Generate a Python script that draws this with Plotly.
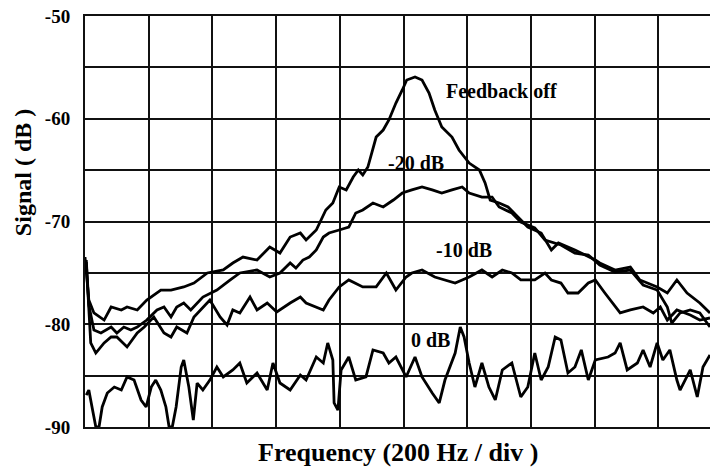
import plotly.graph_objects as go

# Frequency axis in divisions (200 Hz / div), signal in dB
fb_off_x = [0, 0.06, 0.14, 0.3, 0.41, 0.57, 0.66, 0.82, 0.97, 1.04, 1.19, 1.35, 1.55, 1.71, 1.92, 2.17, 2.32, 2.48, 2.7, 2.9,
            3.06, 3.22, 3.38, 3.47, 3.63, 3.78, 3.89, 3.99, 4.1, 4.21, 4.29, 4.36, 4.44, 4.57, 4.68, 4.77, 4.88, 4.98, 5.05, 5.18,
            5.29, 5.4, 5.49, 5.6, 5.76, 5.87, 6.03, 6.19, 6.28, 6.36, 6.5, 6.64, 6.8, 6.95, 7.16, 7.32, 7.43, 7.69, 8.01, 8.08,
            8.32, 8.56, 8.71, 8.98, 9.14, 9.29, 9.45, 9.65, 9.81]
fb_off_y = [-73.46, -77.64, -78.9, -79.59, -78.32, -78.61, -78.32, -78.61, -77.64, -77.35, -76.67, -76.67, -76.37, -75.99, -75.01, -74.72, -74.04, -73.46, -73.75, -72.48,
            -73.07, -71.51, -71.12, -71.8, -70.83, -68.88, -68.2, -66.64, -66.93, -65.67, -64.99, -65.47, -64.7, -61.78, -61.1, -60.12, -58.47, -57.2, -56.23, -55.94,
            -56.23, -57.49, -59.15, -60.8, -61.78, -63.04, -64.31, -64.99, -66.25, -67.91, -68.2, -68.59, -69.56, -70.54, -71.12, -72.77, -72.09, -72.77, -73.75, -74.04,
            -74.72, -74.43, -75.69, -76.37, -76.96, -75.69, -76.96, -77.93, -78.9]

m20_x = [0.02, 0.06, 0.14, 0.25, 0.41, 0.5, 0.61, 0.72, 0.82, 0.97, 1.13, 1.24, 1.35, 1.44, 1.55, 1.66, 1.85, 2.07, 2.28, 2.43,
         2.7, 2.9, 3.06, 3.22, 3.31, 3.42, 3.52, 3.63, 3.74, 3.83, 3.99, 4.14, 4.25, 4.36, 4.52, 4.68, 4.84, 4.98, 5.13, 5.29,
         5.45, 5.6, 5.76, 5.92, 6.03, 6.23, 6.39, 6.5, 6.7, 6.84, 7.06, 7.22, 7.47, 7.69, 7.9, 8.08, 8.32, 8.56, 8.76, 8.98,
         9.14, 9.21, 9.34, 9.5, 9.65, 9.81]
m20_y = [-73.75, -78.13, -80.56, -80.85, -80.27, -80.85, -80.27, -80.56, -80.27, -79.59, -78.61, -78.32, -79.29, -78.32, -77.93, -78.61, -77.35, -76.67, -75.69, -75.01,
         -74.72, -75.4, -75.01, -74.04, -74.53, -73.75, -73.46, -72.77, -71.51, -71.12, -70.83, -70.54, -69.17, -68.88, -68.2, -68.59, -67.91, -67.23, -66.93, -66.64,
         -66.93, -67.23, -66.93, -66.64, -67.23, -67.62, -67.62, -68.59, -69.17, -70.05, -70.63, -71.8, -72.29, -73.07, -73.26, -74.23, -74.91, -74.72, -76.18, -76.67,
         -78.32, -79.88, -78.9, -78.61, -78.9, -80.27]

m10_x = [0.02, 0.09, 0.17, 0.3, 0.41, 0.5, 0.66, 0.82, 0.93, 1.08, 1.24, 1.35, 1.44, 1.6, 1.71, 1.85, 1.96, 2.12, 2.23, 2.32,
         2.43, 2.59, 2.7, 2.86, 3.01, 3.22, 3.38, 3.47, 3.63, 3.74, 3.83, 3.99, 4.14, 4.36, 4.57, 4.73, 4.88, 5.04, 5.13, 5.29,
         5.49, 5.65, 5.81, 6.03, 6.23, 6.39, 6.55, 6.7, 6.84, 7.06, 7.22, 7.32, 7.47, 7.58, 7.74, 7.9, 8.01, 8.16, 8.32, 8.4,
         8.56, 8.76, 8.92, 9.03, 9.14, 9.29, 9.5, 9.65, 9.81]
m10_y = [-73.94, -81.82, -82.8, -81.82, -81.24, -81.24, -82.21, -80.85, -80.27, -79.29, -80.85, -81.24, -80.27, -80.85, -79.29, -78.32, -77.64, -79.29, -80.07, -78.61,
         -78.9, -77.35, -78.61, -77.93, -78.81, -77.93, -77.35, -77.93, -78.32, -78.61, -77.64, -76.37, -75.69, -76.37, -76.37, -75.01, -76.67, -75.4, -75.01, -74.72,
         -75.4, -75.69, -75.99, -75.4, -74.72, -75.4, -74.72, -75.01, -75.69, -75.69, -75.01, -75.69, -75.99, -76.96, -76.96, -75.99, -75.69, -76.96, -78.32, -78.9,
         -78.61, -78.32, -78.9, -78.32, -79.59, -78.61, -79.1, -79.59, -79.39]

m0_x = [0.02, 0.06, 0.11, 0.17, 0.22, 0.27, 0.35, 0.46, 0.57, 0.66, 0.77, 0.88, 0.96, 1.04, 1.11, 1.19, 1.27, 1.32, 1.37, 1.43,
        1.51, 1.55, 1.63, 1.7, 1.76, 1.85, 1.96, 2.07, 2.17, 2.32, 2.43, 2.54, 2.7, 2.86, 2.95, 3.06, 3.22, 3.38, 3.47, 3.63,
        3.74, 3.81, 3.89, 3.91, 3.97, 4.02, 4.14, 4.25, 4.41, 4.52, 4.68, 4.77, 4.88, 5.04, 5.18, 5.29, 5.45, 5.56, 5.65, 5.81,
        5.89, 5.95, 6.03, 6.12, 6.23, 6.34, 6.44, 6.55, 6.7, 6.8, 6.84, 6.95, 7.06, 7.16, 7.27, 7.38, 7.47, 7.58, 7.69, 7.79,
        7.9, 8.01, 8.21, 8.32, 8.4, 8.51, 8.67, 8.76, 8.87, 8.98, 9.07, 9.18, 9.29, 9.34, 9.5, 9.61, 9.7, 9.81]
m0_y = [-86.89, -86.4, -88.05, -90, -90, -88.05, -86.69, -86.11, -86.4, -85.13, -85.43, -87.37, -88.05, -86.11, -85.43, -86.4, -88.05, -90, -90, -88.05,
        -84.16, -83.48, -86.11, -89.32, -85.72, -86.4, -85.43, -84.16, -85.13, -84.45, -83.77, -85.72, -84.74, -86.4, -83.77, -85.72, -86.4, -84.94, -85.43, -83.19,
        -83.77, -81.82, -83.48, -87.66, -88.35, -84.45, -83.19, -85.43, -85.13, -82.5, -82.8, -83.77, -83.19, -85.13, -83.19, -85.13, -86.69, -87.66, -85.43, -82.8,
        -80.27, -81.24, -83.77, -86.11, -83.77, -86.11, -87.37, -84.45, -83.77, -86.11, -87.08, -86.11, -82.8, -85.43, -84.16, -81.24, -81.53, -84.74, -84.16, -82.5,
        -85.43, -83.48, -83.19, -82.8, -81.82, -84.45, -83.77, -82.5, -84.16, -81.82, -83.48, -82.5, -85.43, -86.4, -84.45, -87.08, -84.16, -82.99]

y_ticks = [-90, -85, -80, -75, -70, -65, -60, -55, -50]
y_tick_text = ["-90", "", "-80", "", "-70", "", "-60", "", "-50"]

FONT = "Liberation Serif"
fig = go.Figure()
for xs, ys in [(fb_off_x, fb_off_y), (m20_x, m20_y), (m10_x, m10_y), (m0_x, m0_y)]:
    fig.add_trace(go.Scatter(x=xs, y=ys, mode="lines",
                             line=dict(color="black", width=2.8), showlegend=False,
                             cliponaxis=True))

fig.update_layout(
    width=710, height=470,
    margin=dict(l=85, r=0, t=16, b=43),
    paper_bgcolor="white", plot_bgcolor="white",
    font=dict(family=FONT, color="black"),
    xaxis=dict(range=[0, 9.81], dtick=1, tick0=0, showgrid=True, gridcolor="#111",
               gridwidth=2, showticklabels=False, zeroline=False,
               showline=True, linecolor="#111", linewidth=2, mirror=True, ticks=""),
    yaxis=dict(range=[-90, -50], tickvals=y_ticks, ticktext=y_tick_text,
               showgrid=True, gridcolor="#111", gridwidth=2, zeroline=False,
               showline=True, linecolor="#111", linewidth=2, ticks="",
               ticklabelstandoff=9,
               tickfont=dict(family=FONT, size=19, color="black", weight="bold")),
)

ann_font = dict(family=FONT, size=20, color="black", weight="bold")
fig.add_annotation(x=6.53, y=-57.3, text="Feedback off", showarrow=False, font=ann_font)
fig.add_annotation(x=5.2, y=-64.3, text="-20 dB", showarrow=False, font=ann_font)
fig.add_annotation(x=5.95, y=-72.8, text="-10 dB", showarrow=False, font=ann_font)
fig.add_annotation(x=5.42, y=-81.5, text="0 dB", showarrow=False, font=ann_font)

fig.add_annotation(xref="paper", yref="paper", x=0.5, y=-0.1, text="Frequency (200 Hz / div )",
                   showarrow=False, yanchor="bottom", borderpad=0,
                   font=dict(family=FONT, size=26, color="black", weight="bold"))
fig.add_annotation(xref="paper", yref="paper", x=-0.099, y=0.618, text="Signal ( dB )",
                   showarrow=False, textangle=-90, xanchor="center", yanchor="middle",
                   font=dict(family=FONT, size=24, color="black", weight="bold"))

fig.write_html("out.html")
